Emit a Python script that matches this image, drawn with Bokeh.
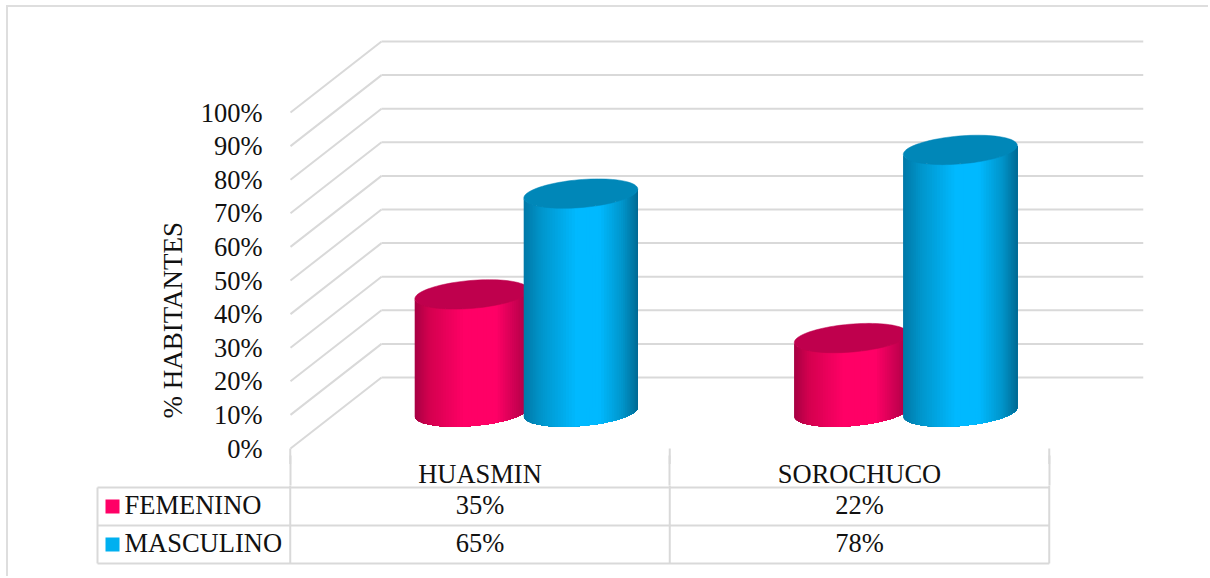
from bokeh.embed import file_html
from bokeh.resources import INLINE
from bokeh.plotting import figure
from bokeh.layouts import column
from bokeh.models import FixedTicker, Range1d, ColumnDataSource, Title
from bokeh.core.properties import value
import math

# ---- data ----
categories = ["HUASMIN", "SOROCHUCO"]
femenino = [35, 22]
masculino = [65, 78]
series_names = ["FEMENINO", "MASCULINO"]
y_ticks = [0, 10, 20, 30, 40, 50, 60, 70, 80, 90, 100]

# ---- style / geometry ----
FONT = "Liberation Serif"
SIZE = "26.5px"
INK = "#111111"
GRID = "#d9d9d9"
PINK = "#ff0066"
BLUE = "#00b0f0"
PX_PER_PCT = 3.36
PX_PER_CAT = 379.5
X0_PX = 479.5          # page x of category 0
ORIGIN_X, ORIGIN_Y = 8, 7
LEFT, RIGHT, TOP, BOTTOM, BASE = 288, 1143, 39, 464, 448
SPLIT = 455            # the table figure overlaps the plot figure from here
TABLE_TOP = 485
W_TOTAL = 1210 - ORIGIN_X
DEPTH_X = 91 / PX_PER_CAT
DEPTH_Y = 71 / PX_PER_PCT

x_range = Range1d((LEFT - X0_PX) / PX_PER_CAT, (RIGHT - X0_PX) / PX_PER_CAT)
y_range = Range1d((BASE - BOTTOM) / PX_PER_PCT, (BASE - TOP) / PX_PER_PCT)

p = figure(width=W_TOTAL, height=BOTTOM - ORIGIN_Y, x_range=x_range, y_range=y_range,
           output_backend="svg", toolbar_location=None,
           min_border_left=LEFT - ORIGIN_X, min_border_right=1210 - RIGHT,
           min_border_top=TOP - ORIGIN_Y, min_border_bottom=0)
p.outline_line_color = None
p.grid.visible = False
p.background_fill_color = None
p.border_fill_color = "white"
p.xaxis.visible = False

# y axis
ya = p.yaxis[0]
ya.ticker = FixedTicker(ticks=y_ticks)
ya.major_label_overrides = {t: f"{t}%" for t in y_ticks}
ya.axis_line_color = None
ya.major_tick_line_color = None
ya.minor_tick_line_color = None
ya.major_label_standoff = 20
ya.major_label_text_font = FONT
ya.major_label_text_font_size = SIZE
ya.major_label_text_color = INK

ttl = Title(text="% HABITANTES", align="left", offset=46, standoff=19,
            text_font=FONT, text_font_style="normal", text_font_size="27px", text_color=INK)
p.add_layout(ttl, "left")

# back wall and side wall gridlines, short column rules under the floor
x_front = (290 - X0_PX) / PX_PER_CAT
x_back = x_front + DEPTH_X
p.segment([x_back] * len(y_ticks), [t + DEPTH_Y for t in y_ticks],
          [x_range.end] * len(y_ticks), [t + DEPTH_Y for t in y_ticks],
          line_color=GRID, line_width=2)
p.segment([x_front] * len(y_ticks), y_ticks,
          [x_back] * len(y_ticks), [t + DEPTH_Y for t in y_ticks],
          line_color=GRID, line_width=2)
p.segment([-0.5, 0.5, 1.5], [0] * 3, [-0.5, 0.5, 1.5], [y_range.start] * 3,
          line_color=GRID, line_width=2)


def mix(c1, c2, f):
    a = [int(c1[i:i + 2], 16) for i in (1, 3, 5)]
    b = [int(c2[i:i + 2], 16) for i in (1, 3, 5)]
    return "#%02x%02x%02x" % tuple(round(u + (v - u) * f) for u, v in zip(a, b))


def shade(stops, f):
    for (f0, c0), (f1, c1) in zip(stops, stops[1:]):
        if f <= f1:
            return mix(c0, c1, (f - f0) / (f1 - f0) if f1 > f0 else 0)
    return stops[-1][1]


RX = 57 / PX_PER_CAT          # cylinder half width
RY = 14 / PX_PER_PCT          # ellipse half height
TILT = 4.5 / PX_PER_PCT       # ellipse rise towards the right
FLOOR = 36.5 / PX_PER_PCT     # base centre above the front 0% line
N = 60


def cylinder(cx, v, stops, top_color):
    base, top = FLOOR, FLOOR + v
    xs, ys, cs = [], [], []
    for i in range(N):
        # each strip runs to the right edge, so later strips paint over earlier ones
        ts = [math.pi + math.pi * k / N for k in range(i, N + 1)]
        lx = [cx + RX * math.cos(a) for a in ts]
        ly = [TILT * math.cos(a) + RY * math.sin(a) for a in ts]
        xs.append(lx + lx[::-1])
        ys.append([base + e for e in ly] + [top + e for e in ly[::-1]])
        cs.append(shade(stops, (lx[0] - (cx - RX)) / (2 * RX)))
    p.patches(xs="xs", ys="ys", fill_color="c", line_color=None,
              source=ColumnDataSource(dict(xs=xs, ys=ys, c=cs)))
    ts = [2 * math.pi * i / 90 for i in range(90)]
    p.patch([cx + RX * math.cos(a) for a in ts],
            [top + TILT * math.cos(a) + RY * math.sin(a) for a in ts],
            fill_color=top_color, line_color=top_color, line_width=0.5)


PINK_STOPS = [(0, "#a80044"), (0.12, "#d4004f"), (0.42, "#ff0066"), (0.7, "#ff0066"), (1, "#a80044")]
BLUE_STOPS = [(0, "#0079a8"), (0.15, "#0096cc"), (0.45, "#00b9ff"), (0.65, "#00b9ff"), (0.85, "#0096cc"), (1, "#006a94")]
OFF_F = -8.2 / PX_PER_CAT
OFF_M = 100.8 / PX_PER_CAT
for i in range(len(categories)):
    cylinder(i + OFF_F, femenino[i], PINK_STOPS, "#bf004d")
    cylinder(i + OFF_M, masculino[i], BLUE_STOPS, "#0087b8")

# ---- data table below the plot ----
ROW_H = 38
ROW0_PX = 506
tx = Range1d((ORIGIN_X - X0_PX) / PX_PER_CAT, (1210 - X0_PX) / PX_PER_CAT)
ty = Range1d((578 - ROW0_PX) / ROW_H, (TABLE_TOP - ROW0_PX) / ROW_H)
t = figure(width=W_TOTAL, height=578 - SPLIT, x_range=tx, y_range=ty, output_backend="svg",
           toolbar_location=None, min_border_left=0, min_border_right=0, min_border_bottom=0,
           min_border_top=TABLE_TOP - SPLIT, x_axis_location="above", y_axis_location=None)
t.outline_line_color = None
t.grid.visible = False
t.border_fill_color = None
t.background_fill_color = None

ta = t.xaxis[0]
ta.ticker = FixedTicker(ticks=[0, 1], minor_ticks=[-0.5, 0.5, 1.5])
ta.major_label_overrides = {i: c for i, c in enumerate(categories)}
ta.axis_line_color = None
ta.major_tick_line_color = None
ta.major_tick_in = 0
ta.major_tick_out = 0
ta.minor_tick_in = 0
ta.minor_tick_out = TABLE_TOP - SPLIT
ta.minor_tick_line_color = GRID
ta.minor_tick_line_width = 2
ta.major_label_standoff = -33
ta.major_label_text_font = FONT
ta.major_label_text_font_size = SIZE
ta.major_label_text_color = INK

hdr_left = (97 - X0_PX) / PX_PER_CAT
rows = [-0.5, 0.5, 1.5]
t.segment([hdr_left] * 3, rows, [1.5] * 3, rows, line_color=GRID, line_width=2)
t.segment([-0.5, 0.5, 1.5], [ty.end] * 3, [-0.5, 0.5, 1.5], [1.5] * 3, line_color=GRID, line_width=2)
t.segment([hdr_left], [-0.5], [hdr_left], [1.5], line_color=GRID, line_width=2)

names_x = (124 - X0_PX) / PX_PER_CAT
t.text([names_x] * 2, [0, 1], text=series_names, text_font=value(FONT), text_font_size=SIZE,
       text_align="left", text_baseline="middle", text_color=INK, y_offset=-2)
sq_x = (112 - X0_PX) / PX_PER_CAT
t.scatter([sq_x] * 2, [0, 1], marker="square", size=14, fill_color=[PINK, BLUE], line_color=None)
for r, vals in enumerate([femenino, masculino]):
    t.text(list(range(len(categories))), [r] * len(categories), text=[f"{v}%" for v in vals],
           text_font=value(FONT), text_font_size=SIZE, text_align="center",
           text_baseline="middle", text_color=INK, y_offset=-2)

page = column(column(p), column(t, margin=(SPLIT - BOTTOM, 0, 0, 0)), spacing=0,
              margin=(ORIGIN_Y, 0, 0, ORIGIN_X),
              styles={"box-shadow": "-2px -2px 0 0 #dedede"})
open("out.html", "w").write(file_html(page, INLINE))
